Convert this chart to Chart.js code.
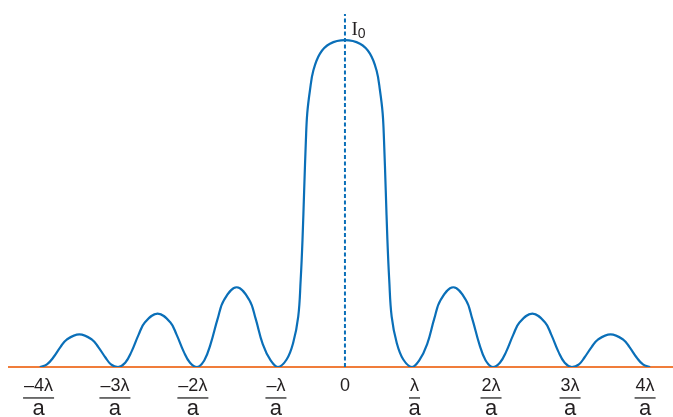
<!DOCTYPE html>
<html>
<head>
<meta charset="utf-8">
<script src="https://cdn.jsdelivr.net/npm/chart.js@4/dist/chart.umd.min.js"></script>
<style>
  html, body { margin: 0; padding: 0; background: #fff; }
  #wrap { width: 673px; height: 417px; }
</style>
</head>
<body>
<div id="wrap"><canvas id="chart" width="673" height="417"></canvas></div>
<script>
// intensity curve (x in units of lambda/a as drawn, y relative to I0)
const curveX = [
  -3.86, -3.77, -3.69, -3.60, -3.52, -3.36, -3.20, -3.12, -3.03, -2.96,
  -2.87, -2.78, -2.70, -2.61, -2.53, -2.37, -2.21, -2.13, -2.04, -1.96,
  -1.87, -1.78, -1.70, -1.61, -1.53, -1.37, -1.21, -1.13, -1.04, -0.94,
  -0.848, -0.738, -0.654, -0.591, -0.56, -0.537, -0.516, -0.494, -0.477, -0.443, -0.40, -0.316, -0.19,
  0,
  0.19, 0.316, 0.40, 0.443, 0.477, 0.494, 0.516, 0.537, 0.56, 0.591, 0.654, 0.738, 0.848,
  0.94, 1.04, 1.13, 1.21, 1.37, 1.53, 1.61, 1.70, 1.78,
  1.87, 1.96, 2.04, 2.13, 2.21, 2.37, 2.53, 2.61, 2.70, 2.78,
  2.87, 2.96, 3.03, 3.12, 3.20, 3.36, 3.52, 3.60, 3.69, 3.77, 3.86
];
const curveY = [
  0, 0.008, 0.029, 0.061, 0.084, 0.100, 0.084, 0.061, 0.029, 0.008,
  0, 0.013, 0.047, 0.099, 0.137, 0.163, 0.137, 0.099, 0.047, 0.013,
  0, 0.020, 0.070, 0.148, 0.205, 0.244, 0.205, 0.148, 0.070, 0.020,
  0, 0.023, 0.075, 0.154, 0.267, 0.389, 0.541, 0.694, 0.776, 0.846, 0.907, 0.959, 0.989,
  1,
  0.989, 0.959, 0.907, 0.846, 0.776, 0.694, 0.541, 0.389, 0.267, 0.154, 0.075, 0.023, 0,
  0.020, 0.070, 0.148, 0.205, 0.244, 0.205, 0.148, 0.070, 0.020,
  0, 0.013, 0.047, 0.099, 0.137, 0.163, 0.137, 0.099, 0.047, 0.013,
  0, 0.008, 0.029, 0.061, 0.084, 0.100, 0.084, 0.061, 0.029, 0.008, 0
];

// where the tick labels sit, and what they say
const tickValues = [-3.876, -2.91, -1.924, -0.873, 0, 0.88, 1.848, 2.848, 3.797];
const tickNumerators = ['\u20134\u03bb', '\u20133\u03bb', '\u20132\u03bb', '\u2013\u03bb', '0', '\u03bb', '2\u03bb', '3\u03bb', '4\u03bb'];
const tickDenominators = ['a', 'a', 'a', 'a', '', 'a', 'a', 'a', 'a'];

const peakLabel = 'I';
const peakSub = '0';

const BLUE = '#0a6fb8';
const ORANGE = '#f07d3a';
const INK = '#231f20';

const labelPlugin = {
  id: 'fractionLabels',
  afterDraw(chart) {
    const ctx = chart.ctx;
    const xs = chart.scales.x;
    const ys = chart.scales.y;
    ctx.save();
    ctx.fillStyle = INK;
    ctx.textAlign = 'center';
    ctx.textBaseline = 'alphabetic';
    tickValues.forEach((v, i) => {
      const px = xs.getPixelForValue(v);
      ctx.font = '18px "Liberation Sans", Arial, sans-serif';
      ctx.fillText(tickNumerators[i], px, 391);
      if (tickDenominators[i]) {
        const w = ctx.measureText(tickNumerators[i]).width + 2;
        ctx.fillStyle = '#444';
        ctx.fillRect(px - w / 2, 397.2, w, 1.5);
        ctx.fillStyle = INK;
        ctx.font = '22px "Liberation Sans", Arial, sans-serif';
        ctx.fillText(tickDenominators[i], px, 415);
      }
    });
    // I0 next to the top of the dashed line
    const x0 = xs.getPixelForValue(0);
    const yTop = ys.getPixelForValue(1);
    ctx.textAlign = 'left';
    ctx.font = '19px "Liberation Serif", "Times New Roman", serif';
    ctx.fillText(peakLabel, x0 + 6.5, yTop - 5);
    const iw = ctx.measureText(peakLabel).width;
    ctx.font = '14px "Liberation Sans", Arial, sans-serif';
    ctx.fillText(peakSub, x0 + 6.5 + iw, yTop - 2.5);
    ctx.restore();
  }
};

new Chart(document.getElementById('chart'), {
  type: 'scatter',
  data: {
    datasets: [
      {
        data: curveX.map((x, i) => ({ x: x, y: curveY[i] })),
        showLine: true,
        borderColor: BLUE,
        borderWidth: 2.2,
        pointRadius: 0,
        tension: 0.4
      },
      {
        data: [{ x: 0, y: 0 }, { x: 0, y: 1.08 }],
        showLine: true,
        borderColor: BLUE,
        borderWidth: 2,
        borderDash: [4, 2.5],
        pointRadius: 0
      }
    ]
  },
  options: {
    responsive: false,
    animation: false,
    events: [],
    layout: { padding: { left: 9, right: 0, top: 14, bottom: 50 } },
    plugins: {
      legend: { display: false },
      tooltip: { enabled: false }
    },
    scales: {
      x: {
        type: 'linear',
        min: -4.25,
        max: 4.15,
        ticks: { display: false },
        grid: { display: false, drawTicks: false },
        border: { display: true, color: ORANGE, width: 2 }
      },
      y: {
        display: false,
        min: 0,
        max: 1.08
      }
    }
  },
  plugins: [labelPlugin]
});
</script>
</body>
</html>
